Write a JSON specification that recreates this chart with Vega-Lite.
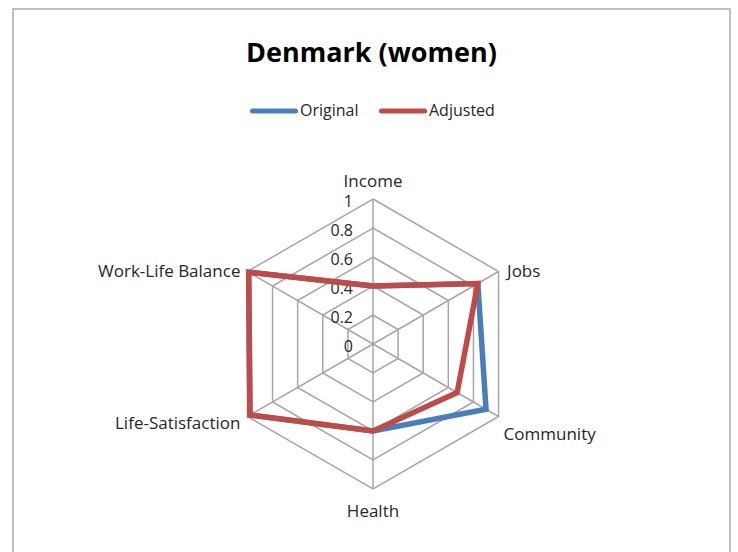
{
  "$schema": "https://vega.github.io/schema/vega-lite/v6.json",
  "width": 717,
  "height": 560,
  "autosize": {"type": "none"},
  "padding": {"left": 13, "top": 9, "right": 8, "bottom": 0},
  "title": {"text": "Denmark (women)", "font": "Open Sans", "fontSize": 27, "fontWeight": "bold", "color": "#000000", "anchor": "middle", "frame": "group", "offset": -80, "baseline": "alphabetic"},
  "config": {"view": {"stroke": "#bfbfbf", "strokeWidth": 2}, "font": "Open Sans"},
  "datasets": {
    "axes": [
      {"axis": "Income", "levels": [0.2, 0.4, 0.6, 0.8, 1]},
      {"axis": "Jobs", "levels": [0.2, 0.4, 0.6, 0.8, 1]},
      {"axis": "Community", "levels": [0.2, 0.4, 0.6, 0.8, 1]},
      {"axis": "Health", "levels": [0.2, 0.4, 0.6, 0.8, 1]},
      {"axis": "Life-Satisfaction", "levels": [0.2, 0.4, 0.6, 0.8, 1]},
      {"axis": "Work-Life Balance", "levels": [0.2, 0.4, 0.6, 0.8, 1]}
    ],
    "ticks": [
      {"level": 0, "label": "0"},
      {"level": 0.2, "label": "0.2"},
      {"level": 0.4, "label": "0.4"},
      {"level": 0.6, "label": "0.6"},
      {"level": 0.8, "label": "0.8"},
      {"level": 1, "label": "1"}
    ],
    "series": [
      {"series": "Original", "axis": "Income", "value": 0.40},
      {"series": "Original", "axis": "Jobs", "value": 0.835},
      {"series": "Original", "axis": "Community", "value": 0.90},
      {"series": "Original", "axis": "Health", "value": 0.60},
      {"series": "Original", "axis": "Life-Satisfaction", "value": 0.98},
      {"series": "Original", "axis": "Work-Life Balance", "value": 0.99},
      {"series": "Adjusted", "axis": "Income", "value": 0.40},
      {"series": "Adjusted", "axis": "Jobs", "value": 0.835},
      {"series": "Adjusted", "axis": "Community", "value": 0.67},
      {"series": "Adjusted", "axis": "Health", "value": 0.60},
      {"series": "Adjusted", "axis": "Life-Satisfaction", "value": 0.98},
      {"series": "Adjusted", "axis": "Work-Life Balance", "value": 0.99}
    ]
  },
  "encoding": {
    "x": {"field": "x", "type": "quantitative", "scale": {"domain": [-2.4828, 2.4621], "nice": false, "zero": false}, "axis": null},
    "y": {"field": "y", "type": "quantitative", "scale": {"domain": [-1.5517, 2.3103], "nice": false, "zero": false}, "axis": null}
  },
  "layer": [
    {
      "data": {"name": "axes"},
      "transform": [
        {"calculate": "indexof(['Income','Jobs','Community','Health','Life-Satisfaction','Work-Life Balance'], datum.axis) * PI / 3", "as": "angle"},
        {"calculate": "sin(datum.angle)", "as": "x"},
        {"calculate": "cos(datum.angle)", "as": "y"}
      ],
      "mark": {"type": "rule", "stroke": "#a6a6a6", "strokeWidth": 1.5},
      "encoding": {"x2": {"datum": 0}, "y2": {"datum": 0}}
    },
    {
      "data": {"name": "axes"},
      "transform": [
        {"flatten": ["levels"], "as": ["level"]},
        {"calculate": "indexof(['Income','Jobs','Community','Health','Life-Satisfaction','Work-Life Balance'], datum.axis)", "as": "idx"},
        {"calculate": "datum.level * sin(datum.idx * PI / 3)", "as": "x"},
        {"calculate": "datum.level * cos(datum.idx * PI / 3)", "as": "y"}
      ],
      "mark": {"type": "line", "interpolate": "linear-closed", "stroke": "#a6a6a6", "strokeWidth": 1.5},
      "encoding": {
        "detail": {"field": "level", "type": "nominal"},
        "order": {"field": "idx", "type": "quantitative"}
      }
    },
    {
      "data": {"name": "ticks"},
      "transform": [
        {"calculate": "0", "as": "x"},
        {"calculate": "datum.level", "as": "y"}
      ],
      "mark": {"type": "text", "align": "right", "baseline": "middle", "dx": -20, "dy": 3, "fontSize": 16, "font": "Open Sans", "color": "#262626"},
      "encoding": {"text": {"field": "label", "type": "nominal"}}
    },
    {
      "data": {"name": "series"},
      "transform": [
        {"calculate": "indexof(['Income','Jobs','Community','Health','Life-Satisfaction','Work-Life Balance'], datum.axis)", "as": "idx"},
        {"calculate": "datum.value * sin(datum.idx * PI / 3)", "as": "x"},
        {"calculate": "datum.value * cos(datum.idx * PI / 3)", "as": "y"}
      ],
      "mark": {"type": "line", "interpolate": "linear-closed", "strokeWidth": 5.5, "strokeJoin": "miter"},
      "encoding": {
        "color": {
          "field": "series", "type": "nominal",
          "scale": {"domain": ["Original", "Adjusted"], "range": ["#4a7ebb", "#be4b48"]},
          "legend": {
            "title": null, "orient": "none", "legendX": 237, "legendY": 78, "direction": "horizontal",
            "symbolType": "stroke", "symbolSize": 1849, "symbolStrokeWidth": 5,
            "labelFont": "Open Sans", "labelFontSize": 16, "labelColor": "#262626", "labelOffset": 2,
            "columnPadding": 12, "padding": 0,
            "encode": {"symbols": {"update": {"strokeCap": {"value": "round"}}}}
          }
        },
        "order": {"field": "idx", "type": "quantitative"}
      }
    },
    {
      "data": {"name": "axes"},
      "transform": [{"filter": "datum.axis === 'Income'"}, {"calculate": "0", "as": "x"}, {"calculate": "1", "as": "y"}],
      "mark": {"type": "text", "align": "center", "baseline": "alphabetic", "dy": -12, "fontSize": 17, "font": "Open Sans", "color": "#262626"},
      "encoding": {"text": {"field": "axis", "type": "nominal"}}
    },
    {
      "data": {"name": "axes"},
      "transform": [{"filter": "datum.axis === 'Health'"}, {"calculate": "0", "as": "x"}, {"calculate": "-1", "as": "y"}],
      "mark": {"type": "text", "align": "center", "baseline": "alphabetic", "dy": 28, "fontSize": 17, "font": "Open Sans", "color": "#262626"},
      "encoding": {"text": {"field": "axis", "type": "nominal"}}
    },
    {
      "data": {"name": "axes"},
      "transform": [{"filter": "datum.axis === 'Jobs'"}, {"calculate": "sin(PI/3)", "as": "x"}, {"calculate": "0.5", "as": "y"}],
      "mark": {"type": "text", "align": "left", "baseline": "alphabetic", "dx": 8.5, "dy": 6, "fontSize": 17, "font": "Open Sans", "color": "#262626"},
      "encoding": {"text": {"field": "axis", "type": "nominal"}}
    },
    {
      "data": {"name": "axes"},
      "transform": [{"filter": "datum.axis === 'Community'"}, {"calculate": "sin(PI/3)", "as": "x"}, {"calculate": "-0.5", "as": "y"}],
      "mark": {"type": "text", "align": "left", "baseline": "alphabetic", "dx": 5, "dy": 23.5, "fontSize": 17, "font": "Open Sans", "color": "#262626"},
      "encoding": {"text": {"field": "axis", "type": "nominal"}}
    },
    {
      "data": {"name": "axes"},
      "transform": [{"filter": "datum.axis === 'Life-Satisfaction'"}, {"calculate": "-sin(PI/3)", "as": "x"}, {"calculate": "-0.5", "as": "y"}],
      "mark": {"type": "text", "align": "right", "baseline": "alphabetic", "dx": -7, "dy": 12, "fontSize": 17, "font": "Open Sans", "color": "#262626"},
      "encoding": {"text": {"field": "axis", "type": "nominal"}}
    },
    {
      "data": {"name": "axes"},
      "transform": [{"filter": "datum.axis === 'Work-Life Balance'"}, {"calculate": "-sin(PI/3)", "as": "x"}, {"calculate": "0.5", "as": "y"}],
      "mark": {"type": "text", "align": "right", "baseline": "alphabetic", "dx": -7, "dy": 6, "fontSize": 17, "font": "Open Sans", "color": "#262626"},
      "encoding": {"text": {"field": "axis", "type": "nominal"}}
    }
  ]
}
